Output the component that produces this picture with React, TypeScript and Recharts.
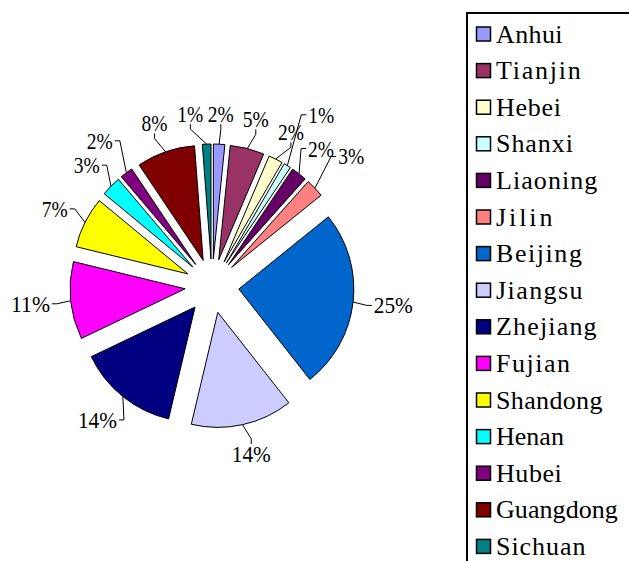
import React from 'react';
import { PieChart, Pie, Legend, Sector } from 'recharts';

const PROVINCES = [
  'Anhui', 'Tianjin', 'Hebei', 'Shanxi', 'Liaoning', 'Jilin', 'Beijing', 'Jiangsu',
  'Zhejiang', 'Fujian', 'Shandong', 'Henan', 'Hubei', 'Guangdong', 'Sichuan',
];
const SHARES = [1.6, 4.8, 2.0, 1.0, 2.2, 2.6, 25.2, 14.3, 14.2, 10.9, 7.2, 2.8, 1.8, 8.2, 1.2];
const COLORS = [
  '#9999FF', '#993366', '#FFFFCC', '#CCFFFF', '#660066', '#FF8080', '#0066CC', '#CCCCFF',
  '#000080', '#FF00FF', '#FFFF00', '#00FFFF', '#800080', '#800000', '#008080',
];

const data = PROVINCES.map((name, i) => ({ name, value: SHARES[i] }));

const CX = 212;
const CY = 286;
const R = 115;
const EXPLODE = 27;
const LABEL_GAP = 163;
const RAD = Math.PI / 180;
const CHAR_W = 13;
const LABEL_H = 18;
const PAD_X = 4;
const PAD_Y = 6;
const FONT = '"Liberation Serif", "DejaVu Serif", serif';
const LEGEND_FS = 26;
const LEGEND_CELL = 13.6;

let measureCtx: CanvasRenderingContext2D | null = null;
function naturalWidth(s: string, size: number) {
  if (typeof document === 'undefined') return s.length * size * 0.5;
  if (!measureCtx) measureCtx = document.createElement('canvas').getContext('2d');
  if (!measureCtx) return s.length * size * 0.5;
  measureCtx.font = `${size}px "Liberation Serif"`;
  return measureCtx.measureText(s).width;
}

type Box = { x1: number; y1: number; x2: number; y2: number };
let placed: Box[] = [];

const mkBox = (x: number, y: number, w: number): Box => ({
  x1: x - w / 2, x2: x + w / 2, y1: y - LABEL_H / 2, y2: y + LABEL_H / 2,
});
const hits = (b: Box) =>
  placed.some(
    (p) =>
      b.x1 < p.x2 + PAD_X && b.x2 + PAD_X > p.x1 && b.y1 < p.y2 + PAD_Y && b.y2 + PAD_Y > p.y1,
  );

function ExplodedSlice(props: any) {
  const { cx, cy, midAngle, startAngle, endAngle, outerRadius, index } = props;
  const ox = cx + EXPLODE * Math.cos(-midAngle * RAD);
  const oy = cy + EXPLODE * Math.sin(-midAngle * RAD);
  return (
    <Sector
      cx={ox}
      cy={oy}
      innerRadius={0}
      outerRadius={outerRadius}
      startAngle={startAngle}
      endAngle={endAngle}
      fill={COLORS[index]}
      stroke="#000"
      strokeWidth={1}
    />
  );
}

function SliceLabel(props: any) {
  const { cx, cy, midAngle, outerRadius, percent, index } = props;
  if (index === 0) placed = [];
  const txt = `${Math.round(percent * 100)}%`;
  const w = txt.length * CHAR_W;
  const ux = Math.cos(-midAngle * RAD);
  const uy = Math.sin(-midAngle * RAD);
  const at = (r: number) => [cx + r * ux + (ux * w) / 2, cy + r * uy + (uy * LABEL_H) / 2];
  let [lx, ly] = at(LABEL_GAP);
  let box = mkBox(lx, ly, w);
  if (hits(box)) {
    if (Math.abs(ux) < 0.3) {
      let best = 0;
      for (let s = 1; s < 60; s++) {
        if (!hits(mkBox(lx - s, ly, w))) { best = -s; break; }
        if (!hits(mkBox(lx + s, ly, w))) { best = s; break; }
      }
      lx += best;
    } else {
      let r = LABEL_GAP;
      while (r < 260) {
        const [tx, ty] = at(r);
        if (!hits(mkBox(tx, ty, w))) break;
        r += 1;
      }
      [lx, ly] = at(r);
    }
    box = mkBox(lx, ly, w);
  }
  placed.push(box);

  const px = cx + (outerRadius + EXPLODE) * ux;
  const py = cy + (outerRadius + EXPLODE) * uy;
  let ex: number, ey: number, kx: number, ky: number;
  if (Math.abs(ux) >= 0.5) {
    ex = ux > 0 ? box.x1 - 2 : box.x2 + 2;
    ey = ly;
    kx = ex + (ux > 0 ? -5 : 5);
    ky = ey;
  } else {
    ex = lx;
    ey = uy < 0 ? box.y2 + 1 : box.y1 - 1;
    kx = ex;
    ky = ey + (uy < 0 ? 5 : -5);
  }
  return (
    <g>
      <polyline
        points={`${px},${py} ${kx},${ky} ${ex},${ey}`}
        fill="none"
        stroke="#000"
        strokeWidth={1}
      />
      <text
        x={lx}
        y={ly + 8}
        textAnchor="middle"
        fontFamily={FONT}
        fontSize={24}
        fill="#000"
        textLength={w}
        lengthAdjust="spacingAndGlyphs"
      >
        {txt}
      </text>
    </g>
  );
}

const renderLegend = () => (
  <svg width={163} height={549} style={{ display: 'block' }}>
    <rect x={1} y={1} width={220} height={620} fill="#fff" stroke="#000" strokeWidth={2} />
    {PROVINCES.map((n, i) => {
      const yc = 22 + i * 36.6;
      const nat = naturalWidth(n, LEGEND_FS);
      const mono = n.length * LEGEND_CELL;
      const target = Math.min(mono, Math.max(nat, (nat + mono) / 2));
      return (
        <g key={n}>
          <rect x={10.5} y={yc - 7} width={14} height={14} fill={COLORS[i]} stroke="#000" strokeWidth={1.5} />
          <text
            x={30}
            y={yc + 8.5}
            fontFamily={FONT}
            fontSize={LEGEND_FS}
            fill="#000"
            textLength={target}
            lengthAdjust="spacing"
          >
            {n}
          </text>
        </g>
      );
    })}
  </svg>
);

export default function App() {
  return (
    <div
      style={{
        position: 'absolute', left: 0, top: 0, width: 629, height: 561,
        overflow: 'hidden', background: '#fff',
      }}
    >
      <PieChart width={629} height={561} margin={{ top: 0, right: 0, bottom: 0, left: 0 }}>
        <Pie
          data={data}
          dataKey="value"
          nameKey="name"
          cx={CX}
          cy={CY}
          outerRadius={R}
          startAngle={90}
          endAngle={-270}
          fill="none"
          stroke="none"
          labelLine={false}
          label={ExplodedSlice}
          isAnimationActive={false}
        />
        <Pie
          data={data}
          dataKey="value"
          nameKey="name"
          cx={CX}
          cy={CY}
          outerRadius={R}
          startAngle={90}
          endAngle={-270}
          fill="none"
          stroke="none"
          legendType="none"
          labelLine={false}
          label={SliceLabel}
          isAnimationActive={false}
        />
        <Legend
          layout="vertical"
          align="right"
          verticalAlign="top"
          content={renderLegend}
          wrapperStyle={{ left: 466, top: 12, right: 'auto', width: 163, height: 549 }}
        />
      </PieChart>
    </div>
  );
}
